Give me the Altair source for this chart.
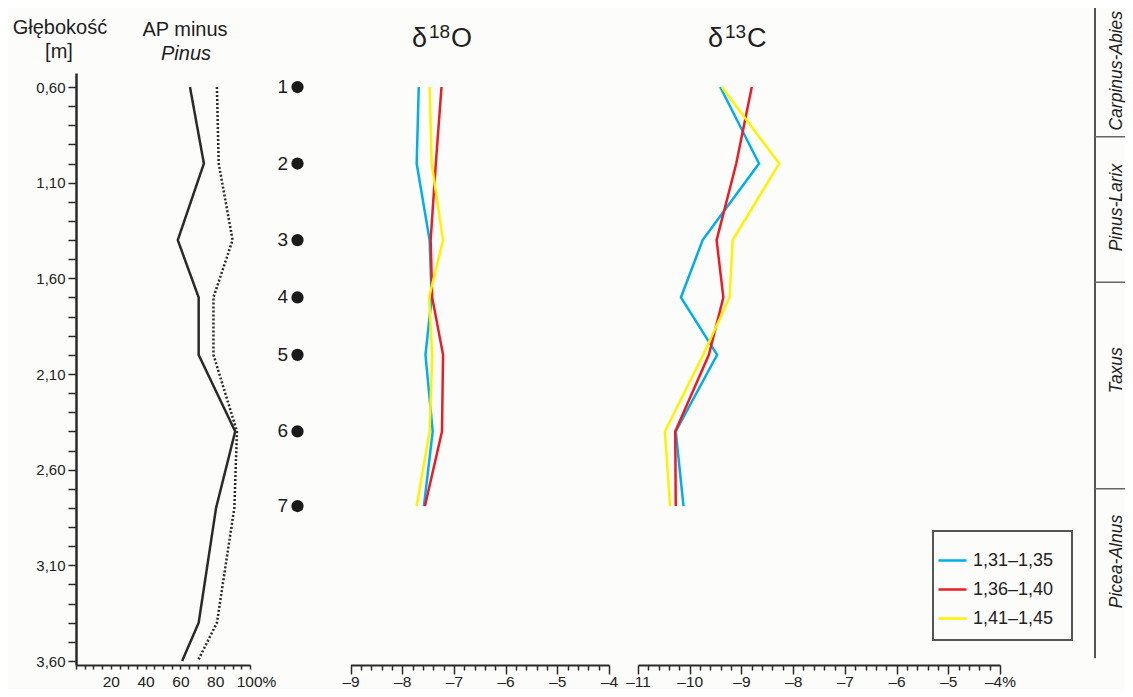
import altair as alt
import pandas as pd

# ---------------- data ----------------
ap_depth = [0.60, 1.00, 1.40, 1.70, 2.00, 2.40, 2.80, 3.40, 3.60]
ap_minus_pinus = [65.5, 73.5, 58.5, 70.5, 70.5, 91.5, 80.5, 70.5, 61.0]
ap_total = [81.0, 82.0, 90.0, 79.0, 79.0, 92.5, 91.0, 81.0, 70.0]

sample_ids = ["1", "2", "3", "4", "5", "6", "7"]
sample_depth = [0.60, 1.00, 1.40, 1.70, 2.00, 2.40, 2.79]

series_names = ["1,31–1,35", "1,36–1,40", "1,41–1,45"]
series_colors = ["#00AEEF", "#ED1C24", "#FFF200"]

d18o_a = [-7.68, -7.72, -7.47, -7.43, -7.55, -7.41, -7.58]
d18o_b = [-7.24, -7.35, -7.45, -7.42, -7.21, -7.23, -7.56]
d18o_c = [-7.47, -7.43, -7.21, -7.48, -7.42, -7.47, -7.72]

d13c_a = [-9.41, -8.66, -9.75, -10.17, -9.47, -10.27, -10.12]
d13c_b = [-8.80, -9.10, -9.48, -9.35, -9.63, -10.28, -10.27]
d13c_c = [-9.38, -8.27, -9.17, -9.23, -9.74, -10.48, -10.38]

zone_names = ["Carpinus-Abies", "Pinus-Larix", "Taxus", "Picea-Alnus"]
zone_label_depth = [0.515, 1.23, 2.08, 3.08]
zone_bounds = [0.86, 1.62, 2.70]
zone_extent = [0.155, 3.585]

depth_ticks = [round(0.6 + 0.1 * i, 1) for i in range(31)]
ap_ticks = list(range(0, 101, 5))
d18o_ticks = [round(-9 + 0.2 * i, 1) for i in range(26)]
d13c_ticks = [round(-11 + 0.2 * i, 1) for i in range(36)]

# ---------------- tables ----------------
df_ap = pd.DataFrame({
    "depth": ap_depth * 2,
    "value": ap_minus_pinus + ap_total,
    "curve": ["AP minus Pinus"] * len(ap_depth) + ["AP"] * len(ap_depth),
})


def long(a, b, c):
    rows = []
    for name, vals in zip(series_names, [a, b, c]):
        for d, v in zip(sample_depth, vals):
            rows.append({"depth": d, "value": v, "series": name})
    return pd.DataFrame(rows)


df_18 = long(d18o_a, d18o_b, d18o_c)
df_13 = long(d13c_a, d13c_b, d13c_c)
df_samples = pd.DataFrame({"id": sample_ids, "depth": sample_depth})
df_zones = pd.DataFrame({"name": zone_names, "depth": zone_label_depth})
df_bounds = pd.DataFrame({"depth": zone_bounds})
df_zline = pd.DataFrame({"depth": [zone_extent[0]], "bottom": [zone_extent[1]]})

FONT = "Liberation Sans"
INK = "#2a2a2a"

yscale = alt.Scale(domain=[0.5268, 3.6209], range=[65, 657], nice=False, zero=False)
yaxis = alt.Axis(orient="left", values=depth_ticks, title=None, grid=False,
                 domainColor=INK, domainWidth=2.5, tickColor=INK, tickWidth=1.5,
                 tickSize=8, labelFont=FONT, labelFontSize=15, labelColor="#222",
                 labelPadding=3, labelOverlap=False, labelBound=False,
                 labelExpr="round(datum.value*10) % 5 == 1 ? replace(format(datum.value, '.2f'), '.', ',') : ''")
Y0 = alt.Y("depth:Q", scale=yscale, axis=yaxis, title=None)

axis_common = dict(
    orient="bottom", title=None, grid=False, domainColor=INK, domainWidth=2,
    tickColor=INK, tickWidth=1.5, labelFont=FONT, labelFontSize=15.5,
    labelColor="#222", labelFlush=False, labelOverlap=False,
    labelBound=False,
)

# ---------------- AP minus Pinus panel ----------------
ap = alt.Chart(df_ap).mark_line(color=INK, strokeWidth=2.5).encode(
    x=alt.X("value:Q",
            scale=alt.Scale(domain=[0, 100], range=[0, 174], nice=False, zero=False),
            axis=alt.Axis(values=ap_ticks, tickSize=4, labelPadding=5,
                          labelExpr="datum.value == 100 ? '100%' : ((datum.value % 20 == 0 && datum.value > 0) ? '' + datum.value : '')",
                          labelOffset={"condition": {"test": "datum.value == 100", "value": 6}, "value": 0},
                          **axis_common)),
    y=Y0,
    strokeDash=alt.StrokeDash("curve:N",
                              scale=alt.Scale(domain=["AP minus Pinus", "AP"], range=[[1, 0], [2, 2]]),
                              legend=None),
    order="depth:Q",
)

# ---------------- samples ----------------
dots = alt.Chart(df_samples).mark_circle(size=150, color="#1a1a1a", opacity=1).encode(
    x=alt.value(221.5), y=Y0)
nums = alt.Chart(df_samples).mark_text(align="right", baseline="middle", fontSize=19,
                                       font=FONT, color="#1a1a1a").encode(
    x=alt.value(212), y=Y0, text="id:N")

color = alt.Color("series:N", scale=alt.Scale(domain=series_names, range=series_colors),
                  legend=alt.Legend(orient="none", legendX=861, legendY=537, title=None,
                                    symbolType="stroke", symbolSize=784, symbolStrokeWidth=2.5,
                                    labelFont=FONT, labelFontSize=18, labelColor="#222",
                                    labelOffset=5, rowPadding=4, padding=0))

tick_major = {"condition": {"test": "abs(datum.value - round(datum.value)) < 0.001", "value": 9}, "value": 5}

d18 = alt.Chart(df_18).mark_line(strokeWidth=2.5).encode(
    x=alt.X("value:Q",
            scale=alt.Scale(domain=[-9, -4], range=[274.5, 533], nice=False, zero=False),
            axis=alt.Axis(values=d18o_ticks, tickSize=tick_major, labelPadding=0,
                          labelExpr="abs(datum.value - round(datum.value)) < 0.001 ? ('–' + abs(round(datum.value))) : ''",
                          **axis_common)),
    y=Y0, color=color, order="depth:Q",
)

d13 = alt.Chart(df_13).mark_line(strokeWidth=2.5).encode(
    x=alt.X("value:Q",
            scale=alt.Scale(domain=[-11, -4], range=[562, 924], nice=False, zero=False),
            axis=alt.Axis(values=d13c_ticks, tickSize=tick_major, labelPadding=0,
                          labelExpr="abs(datum.value - round(datum.value)) < 0.001 ? ('–' + abs(round(datum.value)) + (round(datum.value) == -4 ? '%' : '')) : ''",
                          **axis_common)),
    y=Y0, color=color, order="depth:Q",
)

# legend frame
one = pd.DataFrame({"k": [0]})
frame = alt.Chart(one).mark_rect(fillOpacity=0, stroke="#555", strokeWidth=2).encode(
    x=alt.value(857), x2=alt.value(996), y=alt.value(523), y2=alt.value(632))

# ---------------- zones ----------------
zline = alt.Chart(df_zline).mark_rule(stroke="#555", strokeWidth=2).encode(
    x=alt.value(1019), y=Y0, y2="bottom:Q")
zdiv = alt.Chart(df_bounds).mark_rule(stroke="#666", strokeWidth=1.5).encode(
    x=alt.value(1019), x2=alt.value(1060), y=Y0)
zlab = alt.Chart(df_zones).mark_text(angle=270, fontStyle="italic", fontSize=17.5, font=FONT,
                                     color="#222", align="center", baseline="middle").encode(
    x=alt.value(1041), y=Y0, text="name:N")


# ---------------- headers ----------------
def label(txt, x, y, size, align="center", style="normal"):
    return alt.Chart(pd.DataFrame({"t": [txt]})).mark_text(
        align=align, baseline="alphabetic", fontSize=size, font=FONT, fontStyle=style,
        color="#1e1e1e").encode(x=alt.value(x), y=alt.value(y), text="t:N")


heads = [
    label("Głębokość", -16, 26, 20),
    label("[m]", -17, 50, 20),
    label("AP minus", 109, 28, 20),
    label("Pinus", 110, 52, 20, style="italic"),
    label("δ", 336, 39, 27, align="left"),
    label("18", 353, 30, 19, align="left"),
    label("O", 375, 39, 27, align="left"),
    label("δ", 632, 39, 27, align="left"),
    label("13", 649, 30, 19, align="left"),
    label("C", 671, 39, 27, align="left"),
]

chart = alt.layer(ap, d18, d13, dots, nums, frame, zline, zdiv, zlab, *heads).resolve_scale(
    x="independent").resolve_axis(x="independent").properties(
    width=1049, height=657,
    padding={"left": 68, "top": 0, "right": 0, "bottom": 24},
    autosize=alt.AutoSizeParams(type="none"),
    background="#FCFCFA",
).configure_view(strokeWidth=0)

chart.save("out.html", embed_options={"renderer": "svg", "actions": False})
